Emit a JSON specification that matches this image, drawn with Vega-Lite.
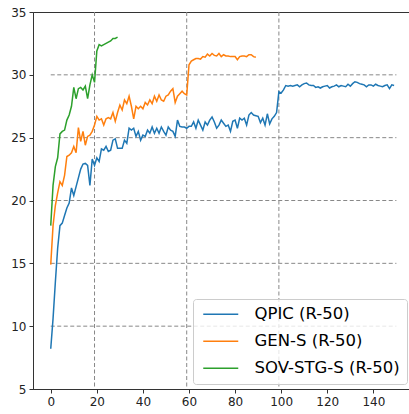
{
  "$schema": "https://vega.github.io/schema/vega-lite/v6.json",
  "autosize": "none",
  "width": 377,
  "height": 377,
  "padding": {"left": 33, "top": 12, "right": 0, "bottom": 25},
  "config": {
    "font": "DejaVu Sans",
    "view": {"stroke": "#333", "strokeWidth": 1},
    "axis": {"domainColor": "#333", "tickColor": "#333", "tickSize": 4, "labelFontSize": 12, "labelColor": "#222", "labelFont": "DejaVu Sans", "labelPadding": 3, "grid": false, "title": null}
  },
  "datasets": {
    "qpic": [
      {"epoch":0,"ap":8.2},{"epoch":1,"ap":10.6},{"epoch":2,"ap":13.5},{"epoch":3,"ap":16.2},{"epoch":4,"ap":18.0},{"epoch":5,"ap":18.2},{"epoch":6,"ap":18.8},{"epoch":7,"ap":19.4},{"epoch":8,"ap":19.8},{"epoch":9,"ap":21.0},
      {"epoch":10,"ap":20.4},{"epoch":11,"ap":21.1},{"epoch":12,"ap":21.8},{"epoch":13,"ap":22.5},{"epoch":14,"ap":22.9},{"epoch":15,"ap":22.95},{"epoch":16,"ap":22.8},{"epoch":17,"ap":21.2},{"epoch":18,"ap":23.3},{"epoch":19,"ap":22.8},
      {"epoch":20,"ap":23.4},{"epoch":21,"ap":23.1},{"epoch":22,"ap":24.1},{"epoch":23,"ap":24.0},{"epoch":24,"ap":24.3},{"epoch":25,"ap":23.9},{"epoch":26,"ap":24.0},{"epoch":27,"ap":24.8},{"epoch":28,"ap":24.9},{"epoch":29,"ap":24.15},
      {"epoch":30,"ap":24.15},{"epoch":31,"ap":24.15},{"epoch":32,"ap":24.8},{"epoch":33,"ap":24.55},{"epoch":34,"ap":25.75},{"epoch":35,"ap":25.6},{"epoch":36,"ap":25.75},{"epoch":37,"ap":25.1},{"epoch":38,"ap":25.5},{"epoch":39,"ap":24.8},
      {"epoch":40,"ap":25.2},{"epoch":41,"ap":25.1},{"epoch":42,"ap":25.6},{"epoch":43,"ap":25.35},{"epoch":44,"ap":25.85},{"epoch":45,"ap":25.35},{"epoch":46,"ap":25.75},{"epoch":47,"ap":25.35},{"epoch":48,"ap":25.85},{"epoch":49,"ap":25.5},
      {"epoch":50,"ap":25.2},{"epoch":51,"ap":25.85},{"epoch":52,"ap":25.6},{"epoch":53,"ap":25.5},{"epoch":54,"ap":25.1},{"epoch":55,"ap":26.4},{"epoch":56,"ap":25.9},{"epoch":57,"ap":25.85},{"epoch":58,"ap":25.85},{"epoch":59,"ap":25.75},
      {"epoch":60,"ap":25.9},{"epoch":61,"ap":25.9},{"epoch":62,"ap":26.25},{"epoch":63,"ap":25.75},{"epoch":64,"ap":26.4},{"epoch":65,"ap":26.0},{"epoch":66,"ap":25.6},{"epoch":67,"ap":26.25},{"epoch":68,"ap":26.0},{"epoch":69,"ap":26.4},
      {"epoch":70,"ap":26.65},{"epoch":71,"ap":26.25},{"epoch":72,"ap":25.75},{"epoch":73,"ap":26.0},{"epoch":74,"ap":26.4},{"epoch":75,"ap":26.15},{"epoch":76,"ap":25.9},{"epoch":77,"ap":26.0},{"epoch":78,"ap":25.5},{"epoch":79,"ap":26.3},
      {"epoch":80,"ap":26.4},{"epoch":81,"ap":25.75},{"epoch":82,"ap":26.55},{"epoch":83,"ap":26.4},{"epoch":84,"ap":26.55},{"epoch":85,"ap":26.0},{"epoch":86,"ap":26.8},{"epoch":87,"ap":27.0},{"epoch":88,"ap":26.8},{"epoch":89,"ap":26.75},
      {"epoch":90,"ap":26.7},{"epoch":91,"ap":26.2},{"epoch":92,"ap":26.55},{"epoch":93,"ap":26.0},{"epoch":94,"ap":26.9},{"epoch":95,"ap":26.1},{"epoch":96,"ap":26.5},{"epoch":97,"ap":26.7},{"epoch":98,"ap":27.0},{"epoch":99,"ap":28.65},
      {"epoch":100,"ap":28.55},{"epoch":101,"ap":28.8},{"epoch":102,"ap":29.15},{"epoch":103,"ap":29.1},{"epoch":104,"ap":29.15},{"epoch":105,"ap":29.1},{"epoch":106,"ap":29.15},{"epoch":107,"ap":29.2},{"epoch":108,"ap":29.05},{"epoch":109,"ap":29.2},
      {"epoch":110,"ap":29.3},{"epoch":111,"ap":29.35},{"epoch":112,"ap":29.2},{"epoch":113,"ap":29.15},{"epoch":114,"ap":29.15},{"epoch":115,"ap":29.0},{"epoch":116,"ap":29.05},{"epoch":117,"ap":28.95},{"epoch":118,"ap":29.05},{"epoch":119,"ap":29.1},
      {"epoch":120,"ap":29.15},{"epoch":121,"ap":28.95},{"epoch":122,"ap":29.05},{"epoch":123,"ap":29.1},{"epoch":124,"ap":29.2},{"epoch":125,"ap":29.05},{"epoch":126,"ap":29.15},{"epoch":127,"ap":29.1},{"epoch":128,"ap":29.05},{"epoch":129,"ap":29.25},
      {"epoch":130,"ap":29.1},{"epoch":131,"ap":29.3},{"epoch":132,"ap":29.45},{"epoch":133,"ap":29.4},{"epoch":134,"ap":29.3},{"epoch":135,"ap":29.25},{"epoch":136,"ap":29.2},{"epoch":137,"ap":29.05},{"epoch":138,"ap":29.2},{"epoch":139,"ap":29.2},
      {"epoch":140,"ap":29.1},{"epoch":141,"ap":29.25},{"epoch":142,"ap":29.15},{"epoch":143,"ap":29.1},{"epoch":144,"ap":29.05},{"epoch":145,"ap":29.15},{"epoch":146,"ap":29.2},{"epoch":147,"ap":28.9},{"epoch":148,"ap":29.2},{"epoch":149,"ap":29.15}
    ],
    "gens": [
      {"epoch":0,"ap":14.9},{"epoch":1,"ap":18.0},{"epoch":2,"ap":19.6},{"epoch":3,"ap":20.6},{"epoch":4,"ap":21.5},{"epoch":5,"ap":21.2},{"epoch":6,"ap":22.0},{"epoch":7,"ap":23.5},{"epoch":8,"ap":23.6},{"epoch":9,"ap":23.8},
      {"epoch":10,"ap":24.3},{"epoch":11,"ap":23.8},{"epoch":12,"ap":25.8},{"epoch":13,"ap":24.7},{"epoch":14,"ap":25.5},{"epoch":15,"ap":24.4},{"epoch":16,"ap":25.1},{"epoch":17,"ap":25.2},{"epoch":18,"ap":25.5},{"epoch":19,"ap":26.0},
      {"epoch":20,"ap":26.7},{"epoch":21,"ap":26.4},{"epoch":22,"ap":26.5},{"epoch":23,"ap":26.0},{"epoch":24,"ap":26.5},{"epoch":25,"ap":26.6},{"epoch":26,"ap":26.5},{"epoch":27,"ap":27.0},{"epoch":28,"ap":26.3},{"epoch":29,"ap":27.0},
      {"epoch":30,"ap":27.6},{"epoch":31,"ap":27.2},{"epoch":32,"ap":28.0},{"epoch":33,"ap":27.7},{"epoch":34,"ap":28.3},{"epoch":35,"ap":27.5},{"epoch":36,"ap":26.5},{"epoch":37,"ap":27.5},{"epoch":38,"ap":27.3},{"epoch":39,"ap":27.5},
      {"epoch":40,"ap":27.3},{"epoch":41,"ap":27.8},{"epoch":42,"ap":27.6},{"epoch":43,"ap":28.0},{"epoch":44,"ap":27.7},{"epoch":45,"ap":28.3},{"epoch":46,"ap":27.9},{"epoch":47,"ap":28.4},{"epoch":48,"ap":28.0},{"epoch":49,"ap":27.9},
      {"epoch":50,"ap":28.3},{"epoch":51,"ap":28.4},{"epoch":52,"ap":28.7},{"epoch":53,"ap":28.9},{"epoch":54,"ap":27.8},{"epoch":55,"ap":28.3},{"epoch":56,"ap":28.5},{"epoch":57,"ap":28.7},{"epoch":58,"ap":28.5},{"epoch":59,"ap":28.4},
      {"epoch":60,"ap":30.8},{"epoch":61,"ap":31.1},{"epoch":62,"ap":31.2},{"epoch":63,"ap":31.3},{"epoch":64,"ap":31.3},{"epoch":65,"ap":31.25},{"epoch":66,"ap":31.45},{"epoch":67,"ap":31.4},{"epoch":68,"ap":31.65},{"epoch":69,"ap":31.5},
      {"epoch":70,"ap":31.7},{"epoch":71,"ap":31.55},{"epoch":72,"ap":31.5},{"epoch":73,"ap":31.7},{"epoch":74,"ap":31.45},{"epoch":75,"ap":31.6},{"epoch":76,"ap":31.5},{"epoch":77,"ap":31.5},{"epoch":78,"ap":31.45},{"epoch":79,"ap":31.45},
      {"epoch":80,"ap":31.45},{"epoch":81,"ap":31.2},{"epoch":82,"ap":31.45},{"epoch":83,"ap":31.5},{"epoch":84,"ap":31.5},{"epoch":85,"ap":31.45},{"epoch":86,"ap":31.6},{"epoch":87,"ap":31.6},{"epoch":88,"ap":31.45},{"epoch":89,"ap":31.4}
    ],
    "sov": [
      {"epoch":0,"ap":18.0},{"epoch":1,"ap":21.2},{"epoch":2,"ap":22.7},{"epoch":3,"ap":23.4},{"epoch":4,"ap":25.3},{"epoch":5,"ap":25.5},{"epoch":6,"ap":25.6},{"epoch":7,"ap":26.4},{"epoch":8,"ap":26.8},{"epoch":9,"ap":27.5},
      {"epoch":10,"ap":29.0},{"epoch":11,"ap":28.1},{"epoch":12,"ap":28.9},{"epoch":13,"ap":29.0},{"epoch":14,"ap":28.8},{"epoch":15,"ap":29.1},{"epoch":16,"ap":28.1},{"epoch":17,"ap":29.2},{"epoch":18,"ap":30.0},{"epoch":19,"ap":29.4},
      {"epoch":20,"ap":31.9},{"epoch":21,"ap":32.4},{"epoch":22,"ap":32.3},{"epoch":23,"ap":32.4},{"epoch":24,"ap":32.5},{"epoch":25,"ap":32.6},{"epoch":26,"ap":32.7},{"epoch":27,"ap":32.9},{"epoch":28,"ap":32.9},{"epoch":29,"ap":33.0}
    ],
    "hgrid": [
      {"y":10,"x0":0,"x1":150},{"y":15,"x0":0,"x1":150},{"y":20,"x0":0,"x1":150},{"y":25,"x0":0,"x1":150},{"y":30,"x0":0,"x1":150}
    ],
    "vgrid": [{"x":19},{"x":59},{"x":99}]
  },
  "layer": [
    {
      "data": {"name": "hgrid"},
      "mark": {"type": "rule", "color": "#888", "strokeWidth": 1, "strokeDash": [4, 2.5]},
      "encoding": {
        "x": {"field": "x0", "type": "quantitative", "scale": {"domain": [-7.7, 155.9], "nice": false, "zero": false},
              "axis": {"values": [0,20,40,60,80,100,120,140], "format": "d"}},
        "x2": {"field": "x1"},
        "y": {"field": "y", "type": "quantitative", "scale": {"domain": [5, 35], "nice": false, "zero": false},
              "axis": {"values": [5,10,15,20,25,30,35], "format": "d"}}
      }
    },
    {
      "data": {"name": "vgrid"},
      "mark": {"type": "rule", "color": "#888", "strokeWidth": 1, "strokeDash": [4, 2.5]},
      "encoding": {"x": {"field": "x", "type": "quantitative"}}
    },
    {
      "data": {"name": "qpic"},
      "mark": {"type": "line", "strokeWidth": 1.5},
      "encoding": {
        "x": {"field": "epoch", "type": "quantitative"},
        "y": {"field": "ap", "type": "quantitative"},
        "color": {"datum": "QPIC (R-50)", "type": "nominal",
          "scale": {"domain": ["QPIC (R-50)", "GEN-S (R-50)", "SOV-STG-S (R-50)"], "range": ["#1f77b4", "#ff7f0e", "#2ca02c"]},
          "legend": {"title": null, "orient": "none", "legendX": 160, "legendY": 287,
            "symbolType": "M-1,0H6", "symbolSize": 100, "symbolStrokeWidth": 1.5,
            "labelFontSize": 16.5, "labelFont": "DejaVu Sans", "labelColor": "#000", "labelOffset": 38,
            "rowPadding": 10, "padding": 7, "strokeColor": "#ccc", "fillColor": "rgba(255,255,255,0.8)", "cornerRadius": 3}}
      }
    },
    {
      "data": {"name": "gens"},
      "mark": {"type": "line", "strokeWidth": 1.5},
      "encoding": {
        "x": {"field": "epoch", "type": "quantitative"},
        "y": {"field": "ap", "type": "quantitative"},
        "color": {"datum": "GEN-S (R-50)", "type": "nominal"}
      }
    },
    {
      "data": {"name": "sov"},
      "mark": {"type": "line", "strokeWidth": 1.5},
      "encoding": {
        "x": {"field": "epoch", "type": "quantitative"},
        "y": {"field": "ap", "type": "quantitative"},
        "color": {"datum": "SOV-STG-S (R-50)", "type": "nominal"}
      }
    }
  ]
}
